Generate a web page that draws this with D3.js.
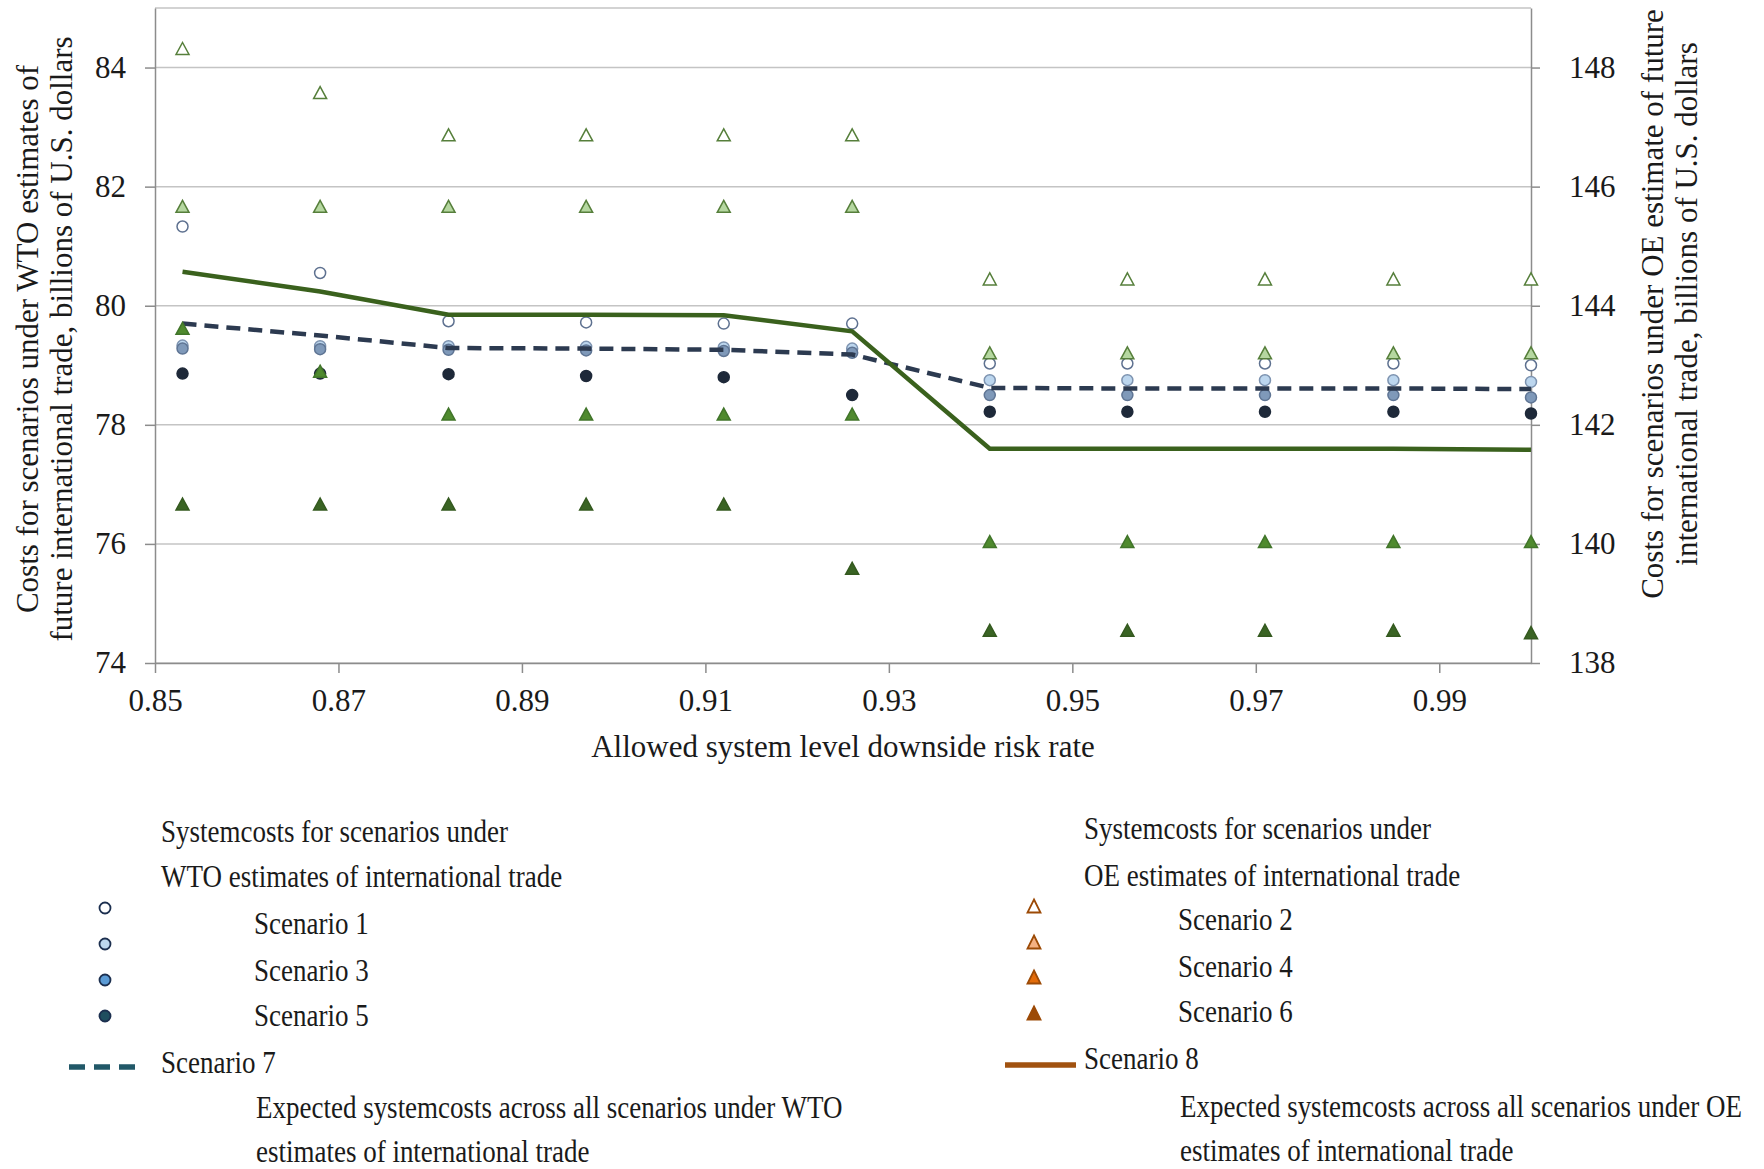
<!DOCTYPE html>
<html>
<head>
<meta charset="utf-8">
<script src="https://cdn.jsdelivr.net/npm/d3@7"></script>
<style>
  body { margin: 0; background: #fff; }
  svg text { font-family: "Liberation Serif", "Times New Roman", serif; fill: #1a1a1a; }
  .axis path, .axis line { stroke: #8c8c8c; stroke-width: 1.5; }
  .grid line { stroke: #c4c4c4; stroke-width: 1.5; }
</style>
</head>
<body>
<div id="chart"></div>
<script>
// allowed system level downside risk rate
const riskRate = [0.853, 0.868, 0.882, 0.897, 0.912, 0.926, 0.941, 0.956, 0.971, 0.985, 1.0];

// WTO estimates (left axis)
const wtoScen1 = [81.33, 80.55, 79.74, 79.72, 79.70, 79.70, 79.03, 79.03, 79.03, 79.03, 79.00];
const wtoScen3 = [79.33, 79.32, 79.32, 79.31, 79.30, 79.28, 78.75, 78.75, 78.75, 78.75, 78.72];
const wtoScen5 = [79.28, 79.27, 79.26, 79.25, 79.24, 79.21, 78.50, 78.50, 78.50, 78.50, 78.46];
const wtoScenDark = [78.86, 78.86, 78.85, 78.82, 78.80, 78.50, 78.22, 78.22, 78.22, 78.22, 78.19];
const wtoExpected = [79.70, 79.50, 79.29, 79.28, 79.26, 79.18, 78.62, 78.61, 78.61, 78.61, 78.60];

// OE estimates (right axis)
const oeScen2 = [148.32, 147.58, 146.87, 146.87, 146.87, 146.87, 144.45, 144.45, 144.45, 144.45, 144.45];
const oeScen4 = [145.67, 145.67, 145.67, 145.67, 145.67, 145.67, 143.21, 143.21, 143.21, 143.21, 143.21];
const oeScen6 = [143.62, 142.90, 142.18, 142.18, 142.18, 142.18, 140.04, 140.04, 140.04, 140.04, 140.04];
const oeScenDark = [140.67, 140.67, 140.67, 140.67, 140.67, 139.59, 138.55, 138.55, 138.55, 138.55, 138.51];
const oeExpected = [144.57, 144.24, 143.85, 143.85, 143.84, 143.57, 141.60, 141.60, 141.60, 141.60, 141.58];

const xTicks = [0.85, 0.87, 0.89, 0.91, 0.93, 0.95, 0.97, 0.99];
const leftTicks = [74, 76, 78, 80, 82, 84];
const rightTicks = [138, 140, 142, 144, 146, 148];

const svgWidth = 1764;
const svgHeight = 1169;

const margin = { top: 8, right: 233, bottom: 506, left: 155 };
const width = svgWidth - margin.left - margin.right;
const height = svgHeight - margin.top - margin.bottom;

const svg = d3.select("#chart")
    .append("svg")
    .attr("width", svgWidth)
    .attr("height", svgHeight);

const chartGroup = svg.append("g")
    .attr("transform", `translate(${margin.left}, ${margin.top})`);

const xScale = d3.scaleLinear().domain([0.85, 1.0]).range([0, width]);
const yLeft = d3.scaleLinear().domain([74, 85]).range([height, 0]);
const yRight = d3.scaleLinear().domain([138, 149]).range([height, 0]);

// gridlines (plus the top border at 85)
chartGroup.append("g")
    .attr("class", "grid")
    .selectAll("line")
    .data(leftTicks.concat([85]))
    .enter()
    .append("line")
    .attr("x1", 0)
    .attr("x2", width)
    .attr("y1", d => yLeft(d))
    .attr("y2", d => yLeft(d));

const fontSize = 31;

const leftAxis = chartGroup.append("g")
    .attr("class", "axis")
    .call(d3.axisLeft(yLeft).tickValues(leftTicks).tickSize(10).tickSizeOuter(0).tickPadding(19));

const rightAxis = chartGroup.append("g")
    .attr("class", "axis")
    .attr("transform", `translate(${width}, 0)`)
    .call(d3.axisRight(yRight).tickValues(rightTicks).tickSize(9).tickSizeOuter(0).tickPadding(29));

const bottomAxis = chartGroup.append("g")
    .attr("class", "axis")
    .attr("transform", `translate(0, ${height})`)
    .call(d3.axisBottom(xScale).tickValues(xTicks).tickFormat(d3.format(".2f")).tickSize(10).tickSizeOuter(0).tickPadding(16));

svg.selectAll(".axis text")
    .style("font-size", fontSize + "px")
    .style("font-family", "Liberation Serif");

// axis titles
svg.append("text")
    .attr("x", margin.left + width / 2)
    .attr("y", 746)
    .attr("dy", "0.35em")
    .attr("text-anchor", "middle")
    .style("font-size", fontSize + "px")
    .text("Allowed system level downside risk rate");

const leftTitle = ["Costs for scenarios under WTO estimates of",
    "future international trade, billions of U.S. dollars"];
leftTitle.forEach((t, i) => {
    svg.append("text")
        .attr("transform", `translate(${38 + i * 34}, 339) rotate(-90)`)
        .attr("text-anchor", "middle")
        .style("font-size", fontSize + "px")
        .text(t);
});

const rightTitle = ["Costs for scenarios under OE estimate of future",
    "international trade, billions of U.S. dollars"];
rightTitle.forEach((t, i) => {
    svg.append("text")
        .attr("transform", `translate(${1663 + i * 34}, 304) rotate(-90)`)
        .attr("text-anchor", "middle")
        .style("font-size", fontSize + "px")
        .text(t);
});

// triangle with its box centred on the point
function tri(w, h) {
    return `M0,${-h / 2}L${w / 2},${h / 2}L${-w / 2},${h / 2}Z`;
}

const circleSeries = [
    { values: wtoScen1, fill: "#ffffff", stroke: "#5e7190" },
    { values: wtoScen3, fill: "#bcd6ee", stroke: "#7d93b0" },
    { values: wtoScen5, fill: "#7f99b9", stroke: "#5f7594" },
    { values: wtoScenDark, fill: "#1e2939", stroke: "#1e2939" }
];

const triSeries = [
    { values: oeScen2, fill: "#ffffff", stroke: "#567f3b" },
    { values: oeScen4, fill: "#b5d7a0", stroke: "#567f3b" },
    { values: oeScen6, fill: "#4f8a2e", stroke: "#41752a" },
    { values: oeScenDark, fill: "#3a6424", stroke: "#34591f" }
];

circleSeries.forEach(s => {
    chartGroup.append("g")
        .selectAll("circle")
        .data(riskRate.map((r, i) => [r, s.values[i]]))
        .enter()
        .append("circle")
        .attr("cx", d => xScale(d[0]))
        .attr("cy", d => yLeft(d[1]))
        .attr("r", 5.5)
        .attr("fill", s.fill)
        .attr("stroke", s.stroke)
        .attr("stroke-width", 1.5);
});

// Scenario 7: expected costs, WTO
const wtoLine = d3.line()
    .x((d, i) => xScale(riskRate[i]))
    .y(d => yLeft(d));

chartGroup.append("path")
    .datum(wtoExpected)
    .attr("d", wtoLine)
    .attr("fill", "none")
    .attr("stroke", "#2c3a50")
    .attr("stroke-width", 4.5)
    .attr("stroke-dasharray", "14,8");

triSeries.forEach(s => {
    chartGroup.append("g")
        .selectAll("path")
        .data(riskRate.map((r, i) => [r, s.values[i]]))
        .enter()
        .append("path")
        .attr("transform", d => `translate(${xScale(d[0])}, ${yRight(d[1])})`)
        .attr("d", tri(13, 12))
        .attr("fill", s.fill)
        .attr("stroke", s.stroke)
        .attr("stroke-width", 1.5);
});

// Scenario 8: expected costs, OE
const oeLine = d3.line()
    .x((d, i) => xScale(riskRate[i]))
    .y(d => yRight(d));

chartGroup.append("path")
    .datum(oeExpected)
    .attr("d", oeLine)
    .attr("fill", "none")
    .attr("stroke", "#3a611d")
    .attr("stroke-width", 4.5);

// legend
const legendFont = 27;

function legendText(x, y, t) {
    svg.append("text")
        .attr("transform", `translate(${x}, ${y}) scale(1, 1.15)`)
        .attr("dy", "0.35em")
        .style("font-size", legendFont + "px")
        .text(t);
}

const wtoLegendText = [
    [161, 831, "Systemcosts for scenarios under"],
    [161, 876, "WTO estimates of international trade"],
    [254, 923, "Scenario 1"],
    [254, 970, "Scenario 3"],
    [254, 1015, "Scenario 5"],
    [161, 1062, "Scenario 7"],
    [256, 1107, "Expected systemcosts across all scenarios under WTO"],
    [256, 1151, "estimates of international trade"]
];
wtoLegendText.forEach(d => legendText(d[0], d[1], d[2]));

const wtoLegendMarks = [
    { y: 908, fill: "#ffffff" },
    { y: 944, fill: "#bdd7ee" },
    { y: 980, fill: "#5b9bd5" },
    { y: 1016, fill: "#1f4e5f" }
];
wtoLegendMarks.forEach(m => {
    svg.append("circle")
        .attr("cx", 105)
        .attr("cy", m.y)
        .attr("r", 5.5)
        .attr("fill", m.fill)
        .attr("stroke", "#1c2f4f")
        .attr("stroke-width", 1.8);
});

svg.append("line")
    .attr("x1", 69).attr("x2", 135)
    .attr("y1", 1067).attr("y2", 1067)
    .attr("stroke", "#215868")
    .attr("stroke-width", 5.5)
    .attr("stroke-dasharray", "16,9");

const oeLegendText = [
    [1084, 828, "Systemcosts for scenarios under"],
    [1084, 875, "OE estimates of international trade"],
    [1178, 919, "Scenario 2"],
    [1178, 966, "Scenario 4"],
    [1178, 1011, "Scenario 6"],
    [1084, 1058, "Scenario 8"],
    [1180, 1106, "Expected systemcosts across all scenarios under OE"],
    [1180, 1150, "estimates of international trade"]
];
oeLegendText.forEach(d => legendText(d[0], d[1], d[2]));

const oeLegendMarks = [
    { y: 906, fill: "#ffffff" },
    { y: 942, fill: "#f4b183" },
    { y: 977, fill: "#e36c0a" },
    { y: 1013, fill: "#9c4a06" }
];
oeLegendMarks.forEach(m => {
    svg.append("path")
        .attr("transform", `translate(1034, ${m.y})`)
        .attr("d", tri(13, 13))
        .attr("fill", m.fill)
        .attr("stroke", "#9c4a06")
        .attr("stroke-width", 1.8);
});

svg.append("line")
    .attr("x1", 1005).attr("x2", 1076)
    .attr("y1", 1065).attr("y2", 1065)
    .attr("stroke", "#a1520f")
    .attr("stroke-width", 5.5);
</script>
</body>
</html>
